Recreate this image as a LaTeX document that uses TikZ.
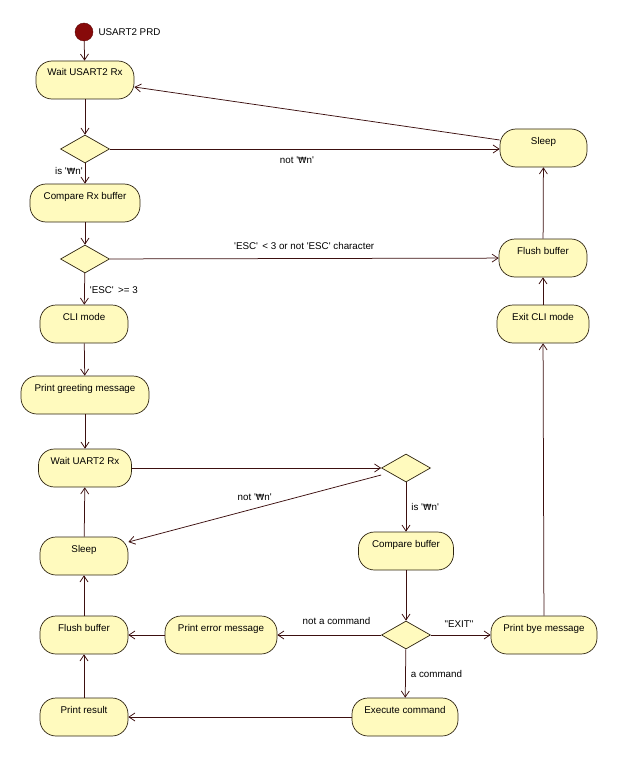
\documentclass[tikz,border=0pt]{standalone}
\usepackage{fontspec}
\setmainfont{Liberation Sans}[Ligatures=TeXOff]
\newfontfamily\wonfont{DejaVu Sans}
\usepackage{tikz}
\usetikzlibrary{shapes.geometric,arrows.meta}

\definecolor{actfill}{RGB}{255,250,190}
\definecolor{actline}{RGB}{45,35,15}
\definecolor{flowline}{RGB}{60,15,15}
\definecolor{startred}{RGB}{135,10,10}
\newcommand{\won}{{\wonfont\fontsize{8.6}{11}\selectfont ₩}}

\begin{document}
\begin{tikzpicture}[
    x=1pt, y=-1pt,
    >={Straight Barb[length=6pt,width=8pt]},
    font=\fontsize{9.8}{11}\selectfont,
    action/.style={draw=actline, fill=actfill, rectangle, rounded corners=16pt, inner sep=0pt,
        minimum height=38pt, text height=15pt, text depth=23pt, line width=0.7pt},
    decision/.style={draw=actline, fill=actfill, diamond, inner sep=0pt, aspect=1.75,
        minimum width=49pt, minimum height=28pt, line width=0.7pt},
    flow/.style={->, draw=flowline, line width=0.75pt},
    guard/.style={inner sep=2pt}
]

    % Page frame
    \useasboundingbox (0,0) rectangle (618,757);

    % Start point
    \node[circle, fill=startred, draw=startred!70!black, minimum size=18pt, inner sep=0pt] (start) at (84,32) {};
    \node[anchor=west] (startlbl) at (95,32) {USART2 PRD};

    % Normal mode (left column, top)
    \node[action, minimum width=98pt] (waitA) at (85,80) {Wait USART2 Rx};
    \node[decision] (decA) at (85,149) {};
    \node[action, minimum width=110pt] (cmpA) at (85,203) {Compare Rx buffer};
    \node[decision] (decB) at (85,259) {};
    \node[action, minimum width=88pt] (cli) at (84,324) {CLI mode};
    \node[action, minimum width=128pt] (greet) at (85,395) {Print greeting message};

    % Right column
    \node[action, minimum width=87pt] (sleepA) at (543.5,148) {Sleep};
    \node[action, minimum width=88pt] (flushA) at (543,258) {Flush buffer};
    \node[action, minimum width=92pt] (exitcli) at (543,324) {Exit CLI mode};

    % CLI loop
    \node[action, minimum width=93pt] (waitB) at (85,468) {Wait UART2 Rx};
    \node[decision] (decC) at (406,468) {};
    \node[action, minimum width=88pt] (sleepB) at (84,556) {Sleep};
    \node[action, minimum width=95pt] (cmpB) at (406,551) {Compare buffer};
    \node[action, minimum width=88pt] (flushB) at (84,635) {Flush buffer};
    \node[action, minimum width=112pt] (errmsg) at (221,635) {Print error message};
    \node[decision] (decD) at (406,635) {};
    \node[action, minimum width=106pt] (bye) at (544,635) {Print bye message};
    \node[action, minimum width=88pt] (result) at (84,717) {Print result};
    \node[action, minimum width=106pt] (exec) at (405,717) {Execute command};

    % Normal mode flow
    \draw[flow] (start) -- (waitA);
    \draw[flow] (waitA) -- (decA);
    \draw[flow] (decA) -- node[guard, pos=0.38, left] {is '\won n'} (cmpA);
    \draw[flow] (decA) -- node[guard, pos=0.48, below=5pt] {not '\won n'} (sleepA.west |- decA);
    \draw[flow] ([yshift=8pt]sleepA.west) -- ([yshift=-7pt]waitA.east);
    \draw[flow] (cmpA) -- (decB);
    \draw[flow] (decB) -- node[guard, pos=0.5, above=7pt] {'ESC' \,< 3 or not 'ESC' character} (flushA);
    \draw[flow] (decB) -- node[guard, pos=0.53, right=3pt] {'ESC' \,>= 3} (cli);
    \draw[flow] (cli) -- (greet);
    \draw[flow] (greet) -- (waitB);

    % CLI loop flow
    \draw[flow] (waitB) -- (decC);
    \draw[flow] ([yshift=-7pt]decC.west) -- node[guard, pos=0.5, above=6pt] {not '\won n'} ([yshift=14pt]sleepB.east);
    \draw[flow] (decC) -- node[guard, pos=0.49, right=3pt] {is '\won n'} (cmpB);
    \draw[flow] (cmpB) -- (decD);
    \draw[flow] (decD) -- node[guard, pos=0.43, above=8pt] {not a command} (errmsg);
    \draw[flow] (decD) -- node[guard, pos=0.47, above=5pt] {"EXIT"} (bye);
    \draw[flow] (decD) -- node[guard, pos=0.51, right=3pt] {a command} (exec);
    \draw[flow] (exec) -- (result);
    \draw[flow] (result) -- (flushB);
    \draw[flow] (errmsg) -- (flushB);
    \draw[flow] (flushB) -- (sleepB);
    \draw[flow] (sleepB) -- (waitB);

    % Back to normal mode
    \draw[flow] (bye) -- (exitcli);
    \draw[flow] (exitcli) -- (flushA);
    \draw[flow] (flushA) -- (sleepA);

\end{tikzpicture}
\end{document}
